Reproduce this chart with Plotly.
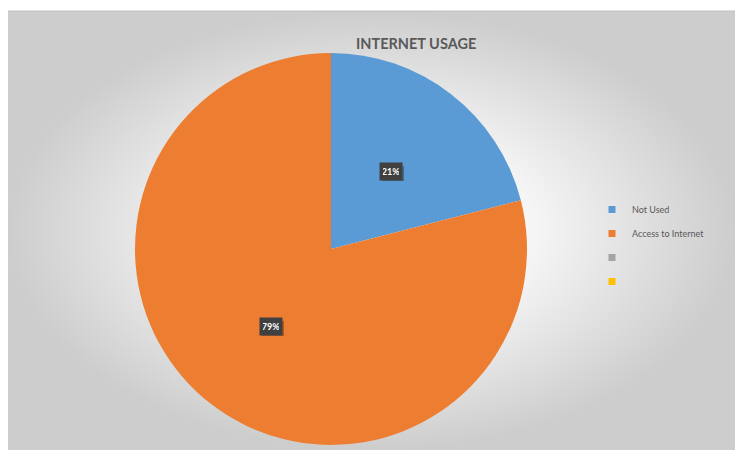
import math
import plotly.graph_objects as go

# ---- data ----
labels = ["Not Used", "Access to Internet", " ", "  "]
values = [21, 79, 0, 0]
colors = ["#5B9BD5", "#ED7D31", "#A5A5A5", "#FFC000"]
title_text = "INTERNET USAGE"

W, H = 735, 451
FONT = "Lato, 'Open Sans', sans-serif"

# pie geometry (pixels)
cx, cy, R = 331, 249, 196

fig = go.Figure()

# background panel with radial gradient
fig.add_trace(go.Scatter(
    x=[8, 735, 735, 8, 8], y=[11, 11, 450, 450, 11],
    mode="lines", line=dict(width=0), fill="toself",
    fillgradient=dict(type="radial",
                      colorscale=[[0, "#ffffff"], [0.45, "#f5f5f5"], [1, "#cdcdcd"]]),
    hoverinfo="skip", showlegend=False,
))

fig.add_trace(go.Pie(
    labels=labels, values=values, sort=False, direction="clockwise", rotation=0,
    marker=dict(colors=colors, line=dict(width=0)),
    textinfo="none", hoverinfo="label+percent", showlegend=False,
    domain=dict(x=[(cx - R) / W, (cx + R) / W],
                y=[(H - cy - R) / H, (H - cy + R) / H]),
))

# legend entries via dummy traces
for i, (lab, col) in enumerate(zip(labels, colors)):
    fig.add_trace(go.Scatter(
        x=[None], y=[None], mode="markers", name=lab,
        marker=dict(symbol="square", size=7, color=col),
        legendgroup=f"g{i}", showlegend=True,
    ))

# data labels computed from values
total = sum(values)
annotations = []
shapes = [
    dict(type="rect", xref="x", yref="y", x0=605, x1=715, y0=195, y1=295,
         fillcolor="rgba(240,240,240,0.85)", line=dict(width=0), layer="below"),
    dict(type="line", xref="x", yref="y", x0=8, x1=735, y0=11, y1=11,
         line=dict(color="#c0c0c0", width=1)),
]
cum = 0
for v in values:
    if v <= 0:
        continue
    mid = (cum + v / 2) / total * 2 * math.pi
    cum += v
    px = cx + 0.5 * R * math.sin(mid)
    py = cy - 0.5 * R * math.cos(mid)
    pct = f"{round(v / total * 100)}%"
    shapes.append(dict(type="rect", xref="x", yref="y",
                       x0=px - 11 + 2, x1=px + 11 + 2, y0=py - 7.5 + 2, y1=py + 7.5 + 2,
                       fillcolor="rgba(0,0,0,0.3)", line=dict(width=0), layer="above"))
    annotations.append(dict(x=px, y=py, xref="x", yref="y", text=f"<b>{pct}</b>",
                            showarrow=False, font=dict(family=FONT, size=9, color="white"),
                            bgcolor="#404040", borderpad=3, width=16))

annotations.append(dict(x=416, y=43, xref="x", yref="y", text=f"<b>{title_text}</b>",
                        showarrow=False, font=dict(family=FONT, size=14.5, color="#595959")))

fig.update_layout(
    width=W, height=H, margin=dict(l=0, r=0, t=0, b=0, autoexpand=False),
    paper_bgcolor="white", plot_bgcolor="rgba(0,0,0,0)",
    xaxis=dict(range=[0, W], visible=False, fixedrange=True),
    yaxis=dict(range=[H, 0], visible=False, fixedrange=True),
    showlegend=True,
    legend=dict(x=592 / W, y=1 - 195 / H, xanchor="left", yanchor="top",
                bgcolor="rgba(0,0,0,0)", tracegroupgap=5,
                font=dict(family=FONT, size=9, color="#595959"),
                itemwidth=30),
    shapes=shapes,
    annotations=annotations,
)

fig.write_html(
    "out.html",
    config={"displayModeBar": False},
    post_script="document.body.style.margin='0';document.body.style.overflow='hidden';",
)
